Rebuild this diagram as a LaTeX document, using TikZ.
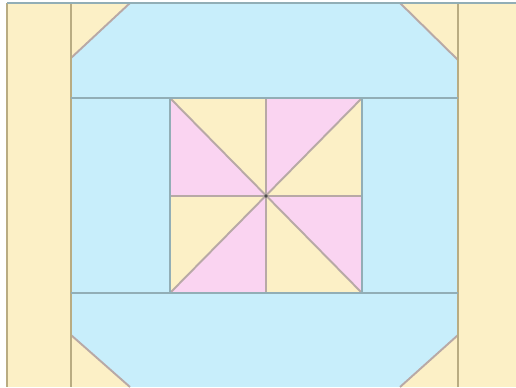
\documentclass[tikz,border=0pt]{standalone}
\usepackage{tikz}
\usetikzlibrary{calc}
\definecolor{QuiltCream}{HTML}{FCF0C6}
\definecolor{QuiltSky}{HTML}{C8EEFB}
\definecolor{QuiltPink}{HTML}{FAD4F1}
\definecolor{QuiltTan}{HTML}{B9AC82}
\definecolor{QuiltSlate}{HTML}{92AEB6}
\definecolor{QuiltMauve}{HTML}{B8A9A6}
\tikzset{
  q/cream/.style={fill=QuiltCream},
  q/sky/.style={fill=QuiltSky},
  q/pink/.style={fill=QuiltPink},
  q/seam/.style={draw=QuiltSlate, line width=1.2pt},
  q/edge/.style={draw=QuiltTan, line width=1.4pt},
  q/diag/.style={draw=QuiltMauve, line width=1.1pt}
}
\begin{document}
\begin{tikzpicture}[x=0.02cm, y=-0.02cm]
\fill[white] (0,0) rectangle (516,387);
\useasboundingbox (0,0) rectangle (516,387);
% frame and border strips
\fill[q/cream] (7,3) rectangle (516,387);
\fill[q/sky] (71,3) rectangle (458,387);
\fill[q/cream] (71,3) -- (130,3) -- (71,58) -- cycle;
\fill[q/cream] (400,3) -- (458,3) -- (458,60) -- cycle;
\fill[q/cream] (71,335) -- (130,387) -- (71,387) -- cycle;
\fill[q/cream] (458,335) -- (458,387) -- (400,387) -- cycle;
\draw[q/diag] (130,3) -- (71,58);
\draw[q/diag] (400,3) -- (458,60);
\draw[q/diag] (71,335) -- (130,387);
\draw[q/diag] (458,335) -- (400,387);
\draw[q/edge] (7,3) -- (7,387);
\draw[q/edge] (71,3) -- (71,387);
\draw[q/edge] (458,3) -- (458,387);
\draw[q/seam] (7,3) -- (516,3);
\draw[q/seam] (71,98) -- (458,98);
\draw[q/seam] (71,293) -- (458,293);
% pinwheel centre
\coordinate (c) at (266,196);
\fill[q/cream] (170,98) -- (266,98) -- (c) -- cycle;
\fill[q/pink] (170,98) -- (170,196) -- (c) -- cycle;
\fill[q/pink] (266,98) -- (362,98) -- (c) -- cycle;
\fill[q/cream] (362,98) -- (362,196) -- (c) -- cycle;
\fill[q/cream] (170,196) -- (170,293) -- (c) -- cycle;
\fill[q/pink] (170,293) -- (266,293) -- (c) -- cycle;
\fill[q/cream] (266,293) -- (362,293) -- (c) -- cycle;
\fill[q/pink] (362,196) -- (362,293) -- (c) -- cycle;
\draw[q/diag] (170,98) -- (362,293);
\draw[q/diag] (362,98) -- (170,293);
\draw[q/diag] (266,98) -- (266,293);
\draw[q/diag] (170,196) -- (362,196);
\draw[q/seam] (170,98) rectangle (362,293);
\fill[black!70] (c) circle (1.8);
\end{tikzpicture}
\end{document}
